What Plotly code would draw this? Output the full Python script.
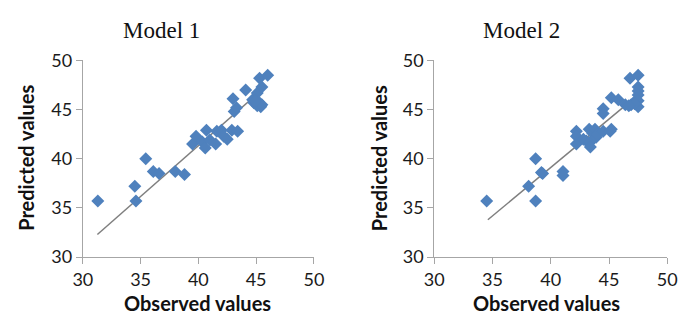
import plotly.graph_objects as go

# ---- data ----
m1_observed = [31.3, 34.5, 34.6, 35.45, 36.1, 36.6, 38.0, 38.8, 39.5, 39.8, 40.35, 40.6, 40.7, 41.0,
               41.5, 41.6, 42.0, 42.2, 42.5, 42.9, 43.4, 43.0, 43.1, 43.3, 44.1, 44.7, 45.0, 45.1,
               45.3, 45.5, 46.0, 44.8, 45.1, 45.4, 45.2, 45.5, 44.9]
m1_predicted = [35.7, 37.2, 35.7, 40.0, 38.7, 38.5, 38.7, 38.4, 41.5, 42.3, 41.7, 41.1, 42.9, 41.9,
                41.5, 42.8, 42.9, 42.3, 42.0, 42.9, 42.8, 46.1, 44.8, 45.2, 47.0, 46.0, 45.6, 46.7,
                48.2, 47.3, 48.5, 45.7, 45.4, 45.3, 45.8, 45.5, 45.9]
m1_trend_x = [31.26, 45.86]
m1_trend_y = [32.3, 47.4]

m2_observed = [34.5, 38.1, 38.7, 38.7, 39.2, 39.3, 41.05, 41.05, 42.2, 42.2, 42.2, 42.8, 43.05, 43.3,
               43.4, 43.4, 43.6, 43.8, 43.9, 44.0, 44.5, 44.5, 44.5, 45.1, 45.2, 45.2, 45.8, 46.4,
               46.8, 46.9, 47.1, 47.5, 47.5, 47.5, 47.5, 47.5, 47.5, 47.2, 46.7]
m2_predicted = [35.7, 37.2, 40.0, 35.7, 38.6, 38.5, 38.7, 38.3, 42.8, 42.3, 41.5, 42.0, 41.8, 43.0,
                41.7, 41.2, 42.6, 43.0, 42.2, 42.5, 42.8, 45.1, 44.6, 42.8, 43.0, 46.2, 46.0, 45.5,
                48.2, 45.5, 45.7, 48.5, 47.3, 46.9, 46.5, 45.9, 45.3, 45.6, 45.4]
m2_trend_x = [34.6, 47.5]
m2_trend_y = [33.8, 46.5]

titles = ["Model 1", "Model 2"]
x_title = "Observed values"
y_title = "Predicted values"
tick_vals = [30, 35, 40, 45, 50]

# ---- style ----
W, H = 686, 324
blue = "#4F81BD"
axis_col = "#A6A6A6"
tick_font = dict(family="Lato, Open Sans, sans-serif", size=18, color="#1a1a1a")
title_font = dict(family="Lato, Open Sans, sans-serif", size=20, color="#111")

fig = go.Figure()

panels = [
    ("x", "y", m1_observed, m1_predicted, m1_trend_x, m1_trend_y),
    ("x2", "y2", m2_observed, m2_predicted, m2_trend_x, m2_trend_y),
]
for xa, ya, ox, py, tx, ty in panels:
    fig.add_trace(go.Scatter(x=tx, y=ty, mode="lines", xaxis=xa, yaxis=ya,
                             line=dict(color="#7F7F7F", width=1.5), showlegend=False,
                             hoverinfo="skip"))
    fig.add_trace(go.Scatter(x=ox, y=py, mode="markers", xaxis=xa, yaxis=ya,
                             marker=dict(symbol="diamond", size=10, color=blue,
                                         line=dict(width=0)),
                             showlegend=False))

x_dom = [[75 / W, 313 / W], [437 / W, 677 / W]]
y_dom = [1 - 263 / H, 1 - 52 / H]

common = dict(range=[30, 50], tickvals=tick_vals, showgrid=False, zeroline=False,
              showline=True, linecolor=axis_col, linewidth=1, ticks="outside",
              ticklen=6, tickcolor=axis_col, tickfont=tick_font)

fig.update_layout(
    width=W, height=H,
    margin=dict(l=0, r=0, t=0, b=0),
    paper_bgcolor="white", plot_bgcolor="white",
    xaxis=dict(domain=x_dom[0], anchor="y", **common),
    yaxis=dict(domain=y_dom, anchor="x", **common),
    xaxis2=dict(domain=x_dom[1], anchor="y2", **common),
    yaxis2=dict(domain=y_dom, anchor="x2", **common),
)

ann = []
title_x = [156, 527]
xt_x = [193, 553]
yt_x = [17, 380]
for i in range(2):
    ann.append(dict(text=titles[i], x=title_x[i] / W, y=1 - 20 / H, xref="paper", yref="paper",
                    showarrow=False, xanchor="center", yanchor="middle",
                    font=dict(family="Liberation Serif, Times New Roman, serif", size=23,
                              color="#111")))
    ann.append(dict(text="<b>" + x_title + "</b>", x=xt_x[i] / W, y=1 - 312 / H,
                    xref="paper", yref="paper", showarrow=False, xanchor="center",
                    yanchor="middle", font=title_font))
    ann.append(dict(text="<b>" + y_title + "</b>", x=yt_x[i] / W, y=1 - 157 / H,
                    xref="paper", yref="paper", showarrow=False, xanchor="center",
                    yanchor="middle", textangle=-90, font=title_font))
fig.update_layout(annotations=ann)

fig.write_html("out.html")
